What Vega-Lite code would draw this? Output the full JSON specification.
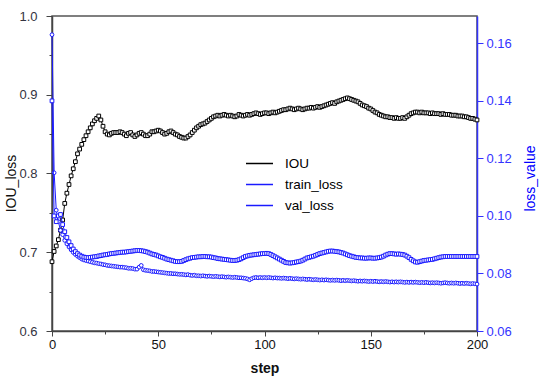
{
"$schema": "https://vega.github.io/schema/vega-lite/v6.json",
"width": 425, "height": 315,
"autosize": {"type": "none"},
"padding": {"left": 52, "top": 16, "right": 73, "bottom": 55},
"config": {
  "font": "Liberation Sans",
  "view": {"stroke": "#555555", "strokeWidth": 1.5},
  "axis": {"grid": false, "labelFont": "Liberation Sans", "titleFont": "Liberation Sans", "labelFontSize": 13, "titleFontSize": 14, "titleFontWeight": "normal"}
},
"data": {"values": [
{"s":0,"iou":0.688,"tr":0.163,"va":0.140},
{"s":1,"iou":0.701,"tr":0.115,"va":0.100},
{"s":2,"iou":0.708,"tr":0.102,"va":0.098},
{"s":3,"iou":0.716,"tr":0.098,"va":0.100},
{"s":4,"iou":0.728,"tr":0.095,"va":0.1005},
{"s":5,"iou":0.741,"tr":0.0935,"va":0.097},
{"s":6,"iou":0.762,"tr":0.0915,"va":0.0945},
{"s":7,"iou":0.775,"tr":0.0903,"va":0.0925},
{"s":8,"iou":0.786,"tr":0.0892,"va":0.0910},
{"s":9,"iou":0.797,"tr":0.0882,"va":0.0897},
{"s":10,"iou":0.806,"tr":0.0873,"va":0.0885},
{"s":11,"iou":0.815,"tr":0.0866,"va":0.0876},
{"s":12,"iou":0.825,"tr":0.0860,"va":0.0869},
{"s":13,"iou":0.831,"tr":0.0855,"va":0.0864},
{"s":14,"iou":0.837,"tr":0.0850,"va":0.0860},
{"s":15,"iou":0.843,"tr":0.0847,"va":0.0857},
{"s":16,"iou":0.848,"tr":0.0845,"va":0.0856},
{"s":17,"iou":0.853,"tr":0.0843,"va":0.0855},
{"s":18,"iou":0.858,"tr":0.0841,"va":0.0856},
{"s":19,"iou":0.863,"tr":0.0839,"va":0.0857},
{"s":20,"iou":0.867,"tr":0.0837,"va":0.0858},
{"s":21,"iou":0.870,"tr":0.0836,"va":0.0859},
{"s":22,"iou":0.873,"tr":0.0834,"va":0.0861},
{"s":23,"iou":0.868,"tr":0.0833,"va":0.0862},
{"s":24,"iou":0.860,"tr":0.0831,"va":0.0864},
{"s":25,"iou":0.853,"tr":0.0830,"va":0.0865},
{"s":26,"iou":0.850,"tr":0.0828,"va":0.0866},
{"s":27,"iou":0.849,"tr":0.0827,"va":0.0868},
{"s":28,"iou":0.851,"tr":0.0826,"va":0.0869},
{"s":29,"iou":0.852,"tr":0.0825,"va":0.0870},
{"s":30,"iou":0.852,"tr":0.0824,"va":0.0871},
{"s":31,"iou":0.852,"tr":0.0823,"va":0.0872},
{"s":32,"iou":0.853,"tr":0.0822,"va":0.0873},
{"s":33,"iou":0.852,"tr":0.0822,"va":0.0874},
{"s":34,"iou":0.850,"tr":0.0821,"va":0.0874},
{"s":35,"iou":0.848,"tr":0.0820,"va":0.0875},
{"s":36,"iou":0.851,"tr":0.0818,"va":0.0876},
{"s":37,"iou":0.852,"tr":0.0818,"va":0.0877},
{"s":38,"iou":0.849,"tr":0.0817,"va":0.0878},
{"s":39,"iou":0.847,"tr":0.0815,"va":0.0879},
{"s":40,"iou":0.849,"tr":0.0815,"va":0.0880},
{"s":41,"iou":0.851,"tr":0.0822,"va":0.0880},
{"s":42,"iou":0.852,"tr":0.0828,"va":0.0879},
{"s":43,"iou":0.850,"tr":0.0813,"va":0.0878},
{"s":44,"iou":0.848,"tr":0.0811,"va":0.0876},
{"s":45,"iou":0.848,"tr":0.0810,"va":0.0874},
{"s":46,"iou":0.850,"tr":0.0809,"va":0.0871},
{"s":47,"iou":0.853,"tr":0.0807,"va":0.0868},
{"s":48,"iou":0.853,"tr":0.0807,"va":0.0866},
{"s":49,"iou":0.854,"tr":0.0806,"va":0.0864},
{"s":50,"iou":0.855,"tr":0.0805,"va":0.0861},
{"s":51,"iou":0.854,"tr":0.0804,"va":0.0858},
{"s":52,"iou":0.852,"tr":0.0803,"va":0.0856},
{"s":53,"iou":0.850,"tr":0.0802,"va":0.0853},
{"s":54,"iou":0.851,"tr":0.0801,"va":0.0850},
{"s":55,"iou":0.853,"tr":0.0800,"va":0.0848},
{"s":56,"iou":0.854,"tr":0.0800,"va":0.0846},
{"s":57,"iou":0.852,"tr":0.0799,"va":0.0844},
{"s":58,"iou":0.850,"tr":0.0799,"va":0.0842},
{"s":59,"iou":0.849,"tr":0.0798,"va":0.0841},
{"s":60,"iou":0.847,"tr":0.0797,"va":0.0841},
{"s":61,"iou":0.846,"tr":0.0797,"va":0.0842},
{"s":62,"iou":0.845,"tr":0.0796,"va":0.0845},
{"s":63,"iou":0.845,"tr":0.0795,"va":0.0848},
{"s":64,"iou":0.847,"tr":0.0796,"va":0.0851},
{"s":65,"iou":0.849,"tr":0.0794,"va":0.0853},
{"s":66,"iou":0.852,"tr":0.0793,"va":0.0855},
{"s":67,"iou":0.855,"tr":0.0794,"va":0.0856},
{"s":68,"iou":0.858,"tr":0.0792,"va":0.0857},
{"s":69,"iou":0.860,"tr":0.0792,"va":0.0858},
{"s":70,"iou":0.862,"tr":0.0791,"va":0.0858},
{"s":71,"iou":0.863,"tr":0.0792,"va":0.0859},
{"s":72,"iou":0.864,"tr":0.0791,"va":0.0859},
{"s":73,"iou":0.866,"tr":0.0790,"va":0.0858},
{"s":74,"iou":0.868,"tr":0.0791,"va":0.0858},
{"s":75,"iou":0.870,"tr":0.0790,"va":0.0857},
{"s":76,"iou":0.872,"tr":0.0789,"va":0.0855},
{"s":77,"iou":0.873,"tr":0.0790,"va":0.0854},
{"s":78,"iou":0.874,"tr":0.0789,"va":0.0852},
{"s":79,"iou":0.873,"tr":0.0788,"va":0.0851},
{"s":80,"iou":0.874,"tr":0.0789,"va":0.0850},
{"s":81,"iou":0.875,"tr":0.0788,"va":0.0849},
{"s":82,"iou":0.874,"tr":0.0787,"va":0.0848},
{"s":83,"iou":0.873,"tr":0.0788,"va":0.0847},
{"s":84,"iou":0.874,"tr":0.0787,"va":0.0846},
{"s":85,"iou":0.873,"tr":0.0786,"va":0.0845},
{"s":86,"iou":0.872,"tr":0.0787,"va":0.0845},
{"s":87,"iou":0.873,"tr":0.0786,"va":0.0846},
{"s":88,"iou":0.875,"tr":0.0785,"va":0.0848},
{"s":89,"iou":0.874,"tr":0.0785,"va":0.0851},
{"s":90,"iou":0.873,"tr":0.0784,"va":0.0855},
{"s":91,"iou":0.874,"tr":0.0783,"va":0.0859},
{"s":92,"iou":0.875,"tr":0.0781,"va":0.0861},
{"s":93,"iou":0.874,"tr":0.0778,"va":0.0863},
{"s":94,"iou":0.875,"tr":0.0782,"va":0.0864},
{"s":95,"iou":0.876,"tr":0.0785,"va":0.0865},
{"s":96,"iou":0.877,"tr":0.0786,"va":0.0866},
{"s":97,"iou":0.876,"tr":0.0785,"va":0.0867},
{"s":98,"iou":0.875,"tr":0.0786,"va":0.0868},
{"s":99,"iou":0.876,"tr":0.0785,"va":0.0869},
{"s":100,"iou":0.877,"tr":0.0786,"va":0.0869},
{"s":101,"iou":0.877,"tr":0.0785,"va":0.0870},
{"s":102,"iou":0.876,"tr":0.0786,"va":0.0869},
{"s":103,"iou":0.877,"tr":0.0785,"va":0.0866},
{"s":104,"iou":0.878,"tr":0.0784,"va":0.0862},
{"s":105,"iou":0.877,"tr":0.0785,"va":0.0858},
{"s":106,"iou":0.878,"tr":0.0784,"va":0.0854},
{"s":107,"iou":0.879,"tr":0.0784,"va":0.0850},
{"s":108,"iou":0.880,"tr":0.0783,"va":0.0846},
{"s":109,"iou":0.881,"tr":0.0784,"va":0.0842},
{"s":110,"iou":0.881,"tr":0.0783,"va":0.0838},
{"s":111,"iou":0.882,"tr":0.0782,"va":0.0837},
{"s":112,"iou":0.883,"tr":0.0783,"va":0.0836},
{"s":113,"iou":0.882,"tr":0.0782,"va":0.0837},
{"s":114,"iou":0.881,"tr":0.0781,"va":0.0838},
{"s":115,"iou":0.882,"tr":0.0782,"va":0.0840},
{"s":116,"iou":0.883,"tr":0.0781,"va":0.0841},
{"s":117,"iou":0.882,"tr":0.0780,"va":0.0843},
{"s":118,"iou":0.881,"tr":0.0781,"va":0.0846},
{"s":119,"iou":0.882,"tr":0.0780,"va":0.0850},
{"s":120,"iou":0.883,"tr":0.0779,"va":0.0854},
{"s":121,"iou":0.883,"tr":0.0780,"va":0.0856},
{"s":122,"iou":0.884,"tr":0.0779,"va":0.0858},
{"s":123,"iou":0.883,"tr":0.0778,"va":0.0860},
{"s":124,"iou":0.884,"tr":0.0779,"va":0.0863},
{"s":125,"iou":0.885,"tr":0.0778,"va":0.0866},
{"s":126,"iou":0.884,"tr":0.0777,"va":0.0869},
{"s":127,"iou":0.885,"tr":0.0778,"va":0.0871},
{"s":128,"iou":0.886,"tr":0.0777,"va":0.0873},
{"s":129,"iou":0.887,"tr":0.0778,"va":0.0875},
{"s":130,"iou":0.888,"tr":0.0777,"va":0.0877},
{"s":131,"iou":0.889,"tr":0.0776,"va":0.0878},
{"s":132,"iou":0.890,"tr":0.0777,"va":0.0878},
{"s":133,"iou":0.889,"tr":0.0776,"va":0.0877},
{"s":134,"iou":0.891,"tr":0.0777,"va":0.0876},
{"s":135,"iou":0.892,"tr":0.0776,"va":0.0875},
{"s":136,"iou":0.893,"tr":0.0775,"va":0.0873},
{"s":137,"iou":0.894,"tr":0.0776,"va":0.0871},
{"s":138,"iou":0.895,"tr":0.0775,"va":0.0868},
{"s":139,"iou":0.896,"tr":0.0776,"va":0.0865},
{"s":140,"iou":0.895,"tr":0.0775,"va":0.0862},
{"s":141,"iou":0.894,"tr":0.0774,"va":0.0860},
{"s":142,"iou":0.893,"tr":0.0775,"va":0.0858},
{"s":143,"iou":0.892,"tr":0.0774,"va":0.0856},
{"s":144,"iou":0.891,"tr":0.0773,"va":0.0855},
{"s":145,"iou":0.889,"tr":0.0774,"va":0.0854},
{"s":146,"iou":0.887,"tr":0.0773,"va":0.0854},
{"s":147,"iou":0.886,"tr":0.0774,"va":0.0853},
{"s":148,"iou":0.885,"tr":0.0773,"va":0.0853},
{"s":149,"iou":0.883,"tr":0.0772,"va":0.0854},
{"s":150,"iou":0.882,"tr":0.0773,"va":0.0854},
{"s":151,"iou":0.880,"tr":0.0772,"va":0.0853},
{"s":152,"iou":0.878,"tr":0.0773,"va":0.0853},
{"s":153,"iou":0.877,"tr":0.0772,"va":0.0854},
{"s":154,"iou":0.875,"tr":0.0771,"va":0.0855},
{"s":155,"iou":0.874,"tr":0.0772,"va":0.0857},
{"s":156,"iou":0.873,"tr":0.0771,"va":0.0860},
{"s":157,"iou":0.872,"tr":0.0772,"va":0.0864},
{"s":158,"iou":0.872,"tr":0.0771,"va":0.0867},
{"s":159,"iou":0.871,"tr":0.0770,"va":0.0869},
{"s":160,"iou":0.871,"tr":0.0771,"va":0.0869},
{"s":161,"iou":0.870,"tr":0.0770,"va":0.0868},
{"s":162,"iou":0.871,"tr":0.0771,"va":0.0867},
{"s":163,"iou":0.870,"tr":0.0770,"va":0.0868},
{"s":164,"iou":0.870,"tr":0.0771,"va":0.0867},
{"s":165,"iou":0.871,"tr":0.0770,"va":0.0866},
{"s":166,"iou":0.870,"tr":0.0769,"va":0.0864},
{"s":167,"iou":0.872,"tr":0.0770,"va":0.0860},
{"s":168,"iou":0.874,"tr":0.0769,"va":0.0855},
{"s":169,"iou":0.876,"tr":0.0770,"va":0.0849},
{"s":170,"iou":0.877,"tr":0.0769,"va":0.0844},
{"s":171,"iou":0.878,"tr":0.0770,"va":0.0840},
{"s":172,"iou":0.878,"tr":0.0769,"va":0.0839},
{"s":173,"iou":0.877,"tr":0.0768,"va":0.0841},
{"s":174,"iou":0.878,"tr":0.0769,"va":0.0843},
{"s":175,"iou":0.877,"tr":0.0768,"va":0.0845},
{"s":176,"iou":0.877,"tr":0.0769,"va":0.0846},
{"s":177,"iou":0.877,"tr":0.0768,"va":0.0847},
{"s":178,"iou":0.876,"tr":0.0767,"va":0.0848},
{"s":179,"iou":0.877,"tr":0.0768,"va":0.0849},
{"s":180,"iou":0.876,"tr":0.0767,"va":0.0851},
{"s":181,"iou":0.876,"tr":0.0768,"va":0.0853},
{"s":182,"iou":0.876,"tr":0.0767,"va":0.0855},
{"s":183,"iou":0.875,"tr":0.0766,"va":0.0857},
{"s":184,"iou":0.876,"tr":0.0767,"va":0.0858},
{"s":185,"iou":0.875,"tr":0.0768,"va":0.0859},
{"s":186,"iou":0.875,"tr":0.0767,"va":0.0859},
{"s":187,"iou":0.875,"tr":0.0766,"va":0.0859},
{"s":188,"iou":0.874,"tr":0.0767,"va":0.0859},
{"s":189,"iou":0.874,"tr":0.0766,"va":0.0859},
{"s":190,"iou":0.874,"tr":0.0767,"va":0.0859},
{"s":191,"iou":0.873,"tr":0.0766,"va":0.0859},
{"s":192,"iou":0.873,"tr":0.0765,"va":0.0859},
{"s":193,"iou":0.873,"tr":0.0766,"va":0.0859},
{"s":194,"iou":0.872,"tr":0.0765,"va":0.0859},
{"s":195,"iou":0.872,"tr":0.0766,"va":0.0859},
{"s":196,"iou":0.871,"tr":0.0765,"va":0.0859},
{"s":197,"iou":0.870,"tr":0.0764,"va":0.0859},
{"s":198,"iou":0.870,"tr":0.0765,"va":0.0859},
{"s":199,"iou":0.869,"tr":0.0764,"va":0.0859},
{"s":200,"iou":0.868,"tr":0.0763,"va":0.0859}
]},
"encoding": {
  "x": {"field": "s", "type": "quantitative",
    "scale": {"domain": [0, 200], "nice": false},
    "axis": {"title": "step", "titleFontWeight": "bold", "titleColor": "#111111", "titlePadding": 10,
      "values": [0,25,50,75,100,125,150,175,200],
      "labelExpr": "datum.value % 50 === 0 ? datum.label : ''",
      "labelColor": "#111111", "labelPadding": 2, "labelFlush": false,
      "domainColor": "#444444", "domainWidth": 1.5, "tickColor": "#444444",
      "tickSize": {"condition": {"test": "datum.value % 50 === 0", "value": 5}, "value": 3}}}
},
"layer": [
  {"mark": {"type": "line", "strokeWidth": 1, "point": {"shape": "square", "filled": false, "fill": "white", "size": 14, "strokeWidth": 1}},
   "encoding": {
     "y": {"field": "iou", "type": "quantitative",
       "scale": {"domain": [0.6, 1.0], "nice": false, "zero": false},
       "axis": {"title": "IOU_loss", "titleColor": "#111111", "titleAngle": -90, "titleX": -37, "titleY": 167, "titleBaseline": "alphabetic", "titleAlign": "center",
         "values": [0.6,0.65,0.7,0.75,0.8,0.85,0.9,0.95,1.0], "format": ".1f",
         "labelExpr": "abs(datum.value*10 - round(datum.value*10)) < 0.001 ? datum.label : ''",
         "labelColor": "#333340", "labelPadding": 9,
         "domainColor": "#444444", "domainWidth": 1.5, "tickColor": "#444444",
         "tickSize": {"condition": {"test": "abs(datum.value*10 - round(datum.value*10)) < 0.001", "value": 6}, "value": 3}}},
     "color": {"datum": "IOU", "type": "nominal",
       "scale": {"domain": ["IOU", "train_loss", "val_loss"], "range": ["#000000", "#1a1aff", "#1a1aff"]},
       "legend": {"orient": "none", "legendX": 193, "legendY": 133, "title": null, "symbolType": "stroke", "symbolSize": 729, "symbolStrokeWidth": 1.5, "labelFontSize": 13.5, "labelFont": "Liberation Sans", "labelColor": "#000000", "labelOffset": 11, "rowPadding": 0}}
   }},
  {"layer": [
    {"mark": {"type": "line", "strokeWidth": 1, "point": {"shape": "circle", "filled": false, "fill": "white", "size": 14, "strokeWidth": 1}},
     "encoding": {
       "y": {"field": "tr", "type": "quantitative",
         "scale": {"domain": [0.06, 0.1695], "nice": false, "zero": false},
         "axis": {"orient": "right", "title": "loss_value", "titleColor": "#0000ff", "titleAngle": -90, "titleX": 57, "titleY": 162, "titleBaseline": "alphabetic", "titleAlign": "center",
           "values": [0.06,0.07,0.08,0.09,0.10,0.11,0.12,0.13,0.14,0.15,0.16], "format": ".2f",
           "labelExpr": "round(datum.value*100) % 2 === 0 ? datum.label : ''",
           "labelColor": "#3333ff", "labelPadding": 3,
           "domainColor": "#3333ff", "domainWidth": 1.5, "tickColor": "#3333ff",
           "tickSize": {"condition": {"test": "round(datum.value*100) % 2 === 0", "value": 6}, "value": 3}}},
       "color": {"datum": "train_loss", "type": "nominal"}
     }},
    {"mark": {"type": "line", "strokeWidth": 1, "point": {"shape": "square", "filled": false, "fill": "white", "size": 14, "strokeWidth": 1}},
     "encoding": {
       "y": {"field": "va", "type": "quantitative"},
       "color": {"datum": "val_loss", "type": "nominal"}
     }}
  ]}
],
"resolve": {"scale": {"y": "independent"}}
}
